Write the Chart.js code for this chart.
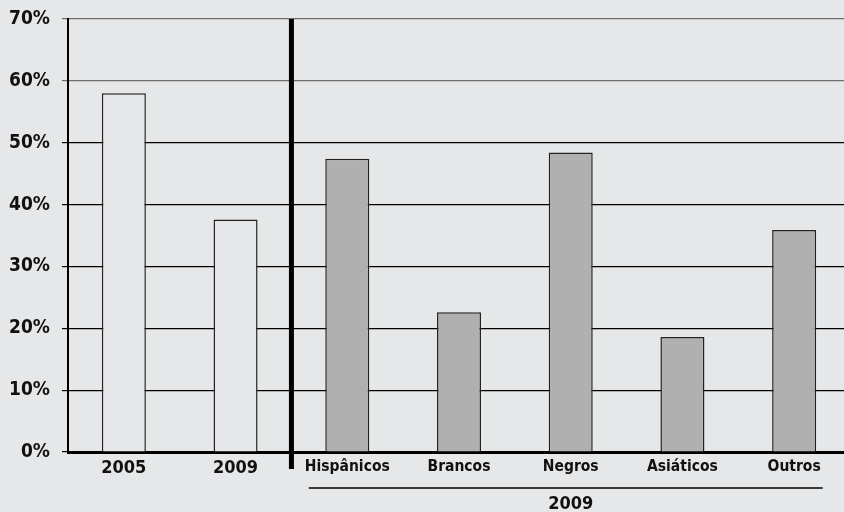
<!DOCTYPE html>
<html>
<head>
<meta charset="utf-8">
<script src="https://cdn.jsdelivr.net/npm/chart.js@4/dist/chart.umd.min.js"></script>
<style>
  html, body { margin: 0; padding: 0; background: #e6e7e8; overflow: hidden; }
  #wrap { width: 844px; height: 512px; overflow: hidden; }
  #chart { display: block; }
</style>
</head>
<body>
<div id="wrap"><canvas id="chart" width="850" height="512"></canvas></div>
<script>
const categories = ["2005", "2009", "Hispânicos", "Brancos", "Negros", "Asiáticos", "Outros"];
const values = [58, 37.6, 47.4, 22.6, 48.4, 18.6, 35.9];
const groupLabel = "2009";
const yMax = 70;
const yStep = 10;

const BG = "#e6e7e8";
const FAMILY = "'DejaVu Sans Condensed', 'DejaVu Sans', sans-serif";
const yearFont = { family: FAMILY, size: 18, weight: "bold" };
const nameFont = { family: FAMILY, size: 15.5, weight: "bold" };

// separator line + group underline and label
const extras = {
  id: "extras",
  afterDraw(chart) {
    const ctx = chart.ctx;
    const x = chart.scales.x;
    const area = chart.chartArea;
    ctx.save();

    const sepX = (x.getPixelForValue(1) + x.getPixelForValue(2)) / 2;
    ctx.fillStyle = "#000";
    ctx.fillRect(sepX - 2.5, area.top, 5, area.bottom + 17 - area.top);

    ctx.font = "bold 15.5px " + FAMILY;
    const left = x.getPixelForValue(2) - ctx.measureText(categories[2]).width / 2 + 4;
    const right = x.getPixelForValue(6) + ctx.measureText(categories[6]).width / 2 + 2;
    ctx.strokeStyle = "#000";
    ctx.lineWidth = 1.5;
    ctx.beginPath();
    ctx.moveTo(left, area.bottom + 36);
    ctx.lineTo(right, area.bottom + 36);
    ctx.stroke();

    ctx.font = "bold 18px " + FAMILY;
    ctx.fillStyle = "#111";
    ctx.textAlign = "center";
    ctx.textBaseline = "middle";
    ctx.fillText(groupLabel, x.getPixelForValue(4), area.bottom + 52);
    ctx.restore();
  }
};

new Chart(document.getElementById("chart"), {
  type: "bar",
  data: {
    labels: categories,
    datasets: [{
      data: values,
      backgroundColor: (c) => (c.dataIndex < 2 ? BG : "#b0b0b0"),
      borderColor: "#222",
      borderWidth: 1.5,
      categoryPercentage: 1,
      barPercentage: 0.394
    }]
  },
  options: {
    responsive: false,
    animation: false,
    layout: { padding: { top: 19, right: 0, bottom: 0, left: 0 } },
    plugins: { legend: { display: false }, tooltip: { enabled: false } },
    scales: {
      x: {
        grid: { display: false, drawTicks: false },
        border: { display: true, color: "#000", width: 3 },
        ticks: {
          color: "#111",
          padding: 6,
          maxRotation: 0,
          autoSkip: false,
          font: (c) => (c.index < 2 ? yearFont : nameFont)
        },
        afterFit: (scale) => { scale.height = 60; }
      },
      y: {
        min: 0,
        max: yMax,
        grid: {
          color: (c) => (c.tick && c.tick.value >= 60 ? "#6e6e6e" : "#000"),
          lineWidth: 1.2,
          tickLength: 6
        },
        border: { display: true, color: "#000", width: 2 },
        ticks: {
          stepSize: yStep,
          color: "#111",
          padding: 12,
          font: { family: FAMILY, size: 19, weight: "bold" },
          callback: (v) => v + "%"
        },
        afterFit: (scale) => {
          scale.width = 68;
          scale.paddingTop = 0;
          scale.paddingBottom = 0;
        }
      }
    }
  },
  plugins: [extras]
});
</script>
</body>
</html>
